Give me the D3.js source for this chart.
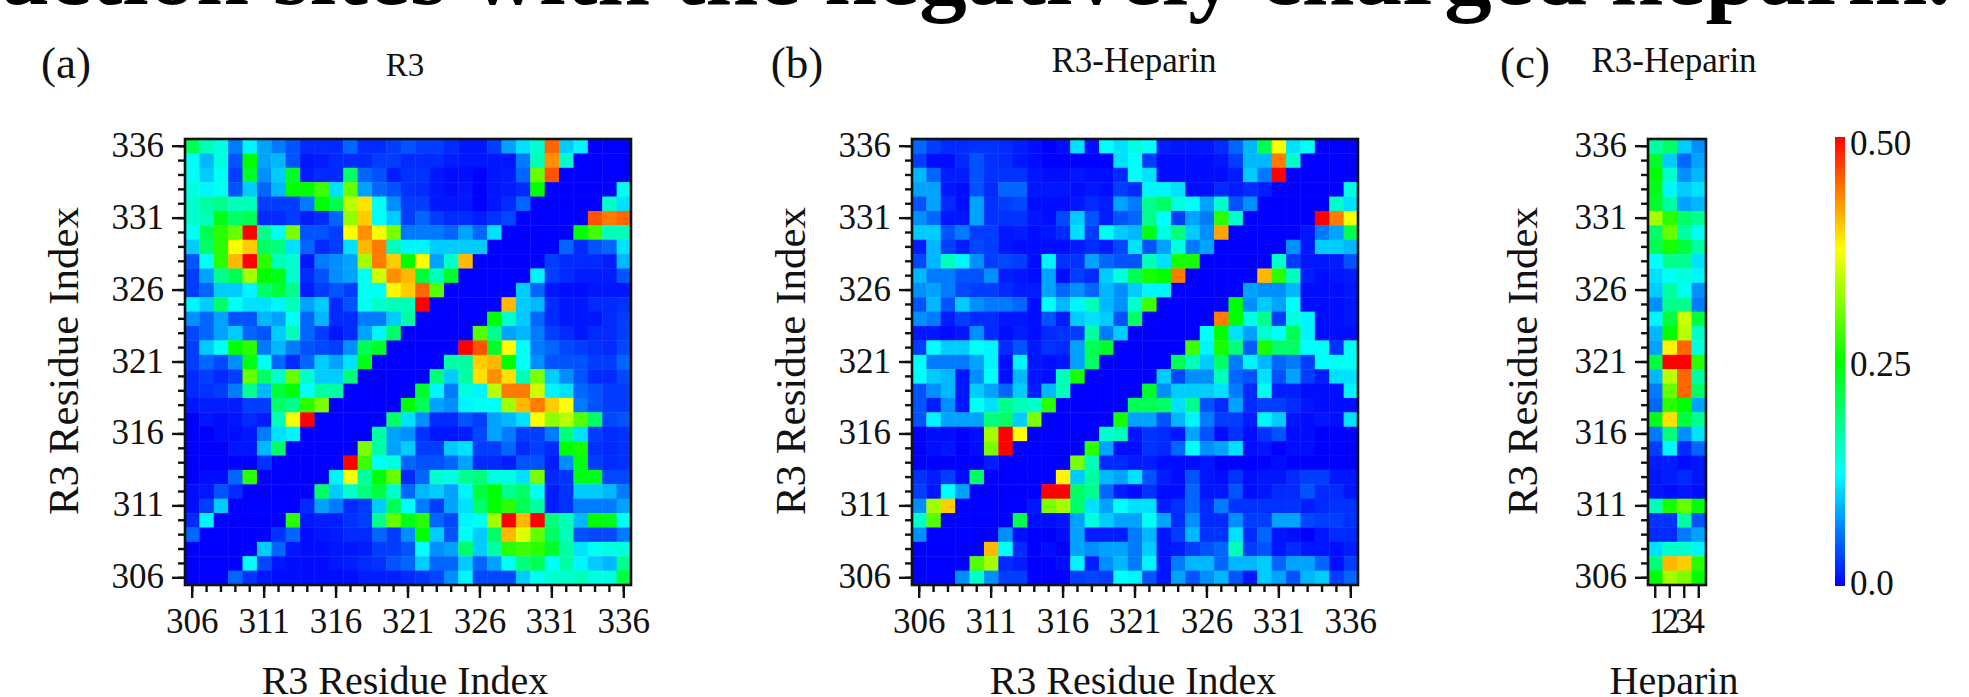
<!DOCTYPE html>
<html><head><meta charset="utf-8">
<script src="https://cdn.jsdelivr.net/npm/d3@7"></script>
<style>html,body{margin:0;padding:0;background:#fff;overflow:hidden}svg{display:block}text{font-family:"Liberation Serif",serif;fill:#111}</style>
</head><body><svg id="c" width="1969" height="697"></svg>
<script>
// Residue indices, top row = 336, left column = 306. Values are in hundredths of the colour scale.
const residues = d3.range(306, 337);
const heparinUnits = [1, 2, 3, 4];
const majorTicks = [306, 311, 316, 321, 326, 331, 336];
const colorbarLabels = ["0.0", "0.25", "0.50"];

const r3Matrix = [
[21,16,14,6,12,8,6,4,2,2,2,5,2,2,3,4,3,3,2,1,1,3,8,11,15,45,10,12,0,0,0],
[13,9,14,4,25,8,9,4,1,1.5,2,2,2,3,3,2,2,2,1.5,1,1,1,1,6,16,43,15,0,0,0,0],
[13,10,13,3,23,7,10,23,1.5,2,2,20,5,4,1.5,2.5,2.5,1,.5,.5,0,1,1.5,5,30,46,0,0,0,0,0],
[14,12,13,4,10,5,9,25,25,28,11,30,8,5,4,2.5,2,1,.5,1,0,1,1.5,2,25,0,0,0,0,0,13],
[15,17,18,16,16,3,3,3,6,25,21,34,39,13,7,3,3,1,1,1,0,1,2,5,0,0,0,0,0,15,11],
[15,16,24,20,21,2,2,3,1.5,2,5,32,40,13,10,3,5,3,2,2,1.5,2.5,3.5,0,0,0,0,0,46,44,45],
[13,21,27,30,50,18,13,31,4,4,3,37.5,43,37,31,6,6,6,5,8,5,11,0,0,0,0,0,25,28,16,16],
[10,20,27,37,40,20,19,11,5,2,3,11,41,44,16,12,12,10,10,10,10,0,0,0,0,0,5,2,4,5,11],
[4,13,27,41,50,27,16,15,1,6,7,8,33,44,40,25,37.5,8,15,41,0,0,0,0,0,3,2,2,2,1.5,9],
[3,8,18,21,33,25,24,15,2,4,7,8,13,35,43,41,22,16,23,0,0,0,0,0,12,3,2,1.5,1.5,1.5,4],
[3,5,10,10,12,20,22,18,1.5,3,4,3,13,13,38,40,45,29,0,0,0,0,0,10,5,1,.5,.5,1,1,1],
[12,10,20,13,11,11,12,16,8,10,2,4,13,15,16,16,50,0,0,0,0,0,41,10,9,2,1,1,2,2,2.5],
[7,5,8,4,4,9,8,13,5,9,2,2,6,6,10,17,0,0,0,0,0,25,15,10,5,2,1,1,1,2,3],
[3.5,5,8,10,5,4,10,16,5,3,1,2,8,12,20,0,0,0,0,0,29,18,8,9,6,3,2,1,2,2,3],
[3,10,13,25,27,6,9,6,4,3.5,3,7,21,23,0,0,0,0,0,50,46,23,37.5,13,6,5,3.5,3,2.5,2,3.5],
[3,5,3.5,7,24,13,5,2,5,10,8,11,24,0,0,0,0,0,17,17,40,41,25,13,7,4,4,4,3,3,5],
[2,3,2,3,30,20,15,30,15,10,10,19,0,0,0,0,0,19,10,17,39,43,39,16,31,10,7,4,2,2,3.5],
[2,2.5,3,6,18,9,22,25,12.5,17,17,0,0,0,0,0,23,12,6,14,12,34,44,44,35,12,11,5,4,3,3],
[1,1.5,1.5,1.5,3,3,20,18,27,31,0,0,0,0,0,25,21,8,7,12,13,13,33,41,44,40,37.5,6,4,3,3],
[0,1,.5,1,2,1.5,16,37,50,0,0,0,0,0,20,11,7,2,2,4,3,8,9,11,37.5,32,34,29,20,3.5,4],
[0,0,.5,.5,1,6,11,12,0,0,0,0,0,17,8,7,2.5,1,1,1.5,3.5,8,6,3,3,6,19,11,3,2,2.5],
[0,0,0,1,1,9,20,0,0,0,0,0,31,17,8,10,3,3,10,11,3,3,5,2,3,2,25,26,2.5,2,2.5],
[0,0,0,0,0,2.5,0,0,0,0,0,50,28,13,14,5,4,4,5,8,2,2,1.5,4,4,1.5,7,24,3,2,2.5],
[0,.5,.5,5,27,0,0,0,0,0,12,37,17,25,30,2,5,15,14,18,19,14,14,11,31,2,2.5,24,24,3.5,3.5],
[.5,1,4,2,0,0,0,0,0,20,10,15,19,22,15,5,9,10,8,12,22,25,18,20,13,1.5,2.5,10,10,9,6],
[.5,3,10,0,0,0,0,0,2,8,6,2,3,10,21,12.5,6,3,8,11,20,25,27,21,17,1.5,2.5,6,6,6,8],
[2,12,0,0,0,0,0,27,1,1.5,1.5,2.5,3,18,30,24,27,5,3.5,12,13,33,50,41,50,19,16,9,25,24,13],
[5,0,0,0,0,0,2.5,5,.5,1,1.5,2,2,5,3,7,25,10,4,13,10,20,41,36,30,20,16,4,3.5,3.5,6],
[0,0,0,0,0,10,5,1,.5,.5,1,1,1.5,3,3,4,12.5,7,8,20,10,17,27,28,27,23,17,11,13,14,14],
[0,0,0,0,12.5,3.5,1,.5,.5,.5,1,1.5,2,2.5,4,5,10,5,5,10,5,8,13,19,21,13,17,12,10,9,18],
[0,0,0,5,2.5,1,.5,.5,.5,.5,.5,.5,1.5,1.5,1.5,2,2.5,3.5,7,12,3.5,3.5,3.5,10,13,15,15,16,14,14,22]
];

const r3HeparinMatrix = [
[5,3,2,2,2.5,2.5,2,1.5,.5,0,.5,11,.5,12.5,11,14,12.5,1.5,1,1,1,2,5,9,21,37,11,13,0,0,0],
[3,.5,.5,2,4,2.5,2,1,.5,0,0,0,0,0,11,12.5,3,.5,.5,.5,.5,1,3,9,9,44,15,0,0,0,0],
[9,5,1.5,1.5,4,2.5,2.5,2.5,1,.5,.5,1,.5,.5,2,12.5,11,.5,.5,.5,.5,.5,1.5,10,6,50,0,0,0,0,0],
[8,8,1,.5,4,2,5,5,1,1,1,.5,1,.5,3,2,12,12,11,.5,.5,2,1.5,2,1.5,0,0,0,0,0,14],
[4,8,2,.5,8,2.5,3,3.5,.5,.5,.5,1,2,1.5,8,6,18,20,14,12.5,8,15,4,7,0,0,0,0,0,15,11],
[7,5,1,1,8,2.5,2.5,2.5,1,.5,3.5,10,4,1.5,4,5,18,12.5,3,8,6,27,15,0,0,0,0,0,50,44,37],
[10,10,4,6,3,3,1,1.5,.5,1,2,11,3,13,10,9,24,14,19,10,7,42,0,0,0,0,0,1,6,8,21],
[1.5,9,3,1.5,3.5,3,1,.5,.5,.5,.5,1.5,2,1.5,3.5,11,4,8,14,6,8,0,0,0,0,0,7,1,10,10,9],
[3.5,9,16,12,7,3,3.5,3,.5,12,2.5,2.5,8,5,4,4,16,11,26,26,0,0,0,0,0,15,3,1,1,1.5,4],
[9,6,6,4,4,7,1.5,1,.5,8,.5,3,2,10,14,21,26,25,44,0,0,0,0,0,41,27,16,1.5,.5,1,1.5],
[7,8,6,3.5,3,3,2,1.5,1.5,8,5,7,5,9,7,10,12,12,0,0,0,0,0,8,7,7,9,.5,.5,.5,1],
[4,9,4,10,7,6,6,5,.5,12.5,9,12,16,9,7,15,28,0,0,0,0,0,25,7,10,8,12.5,.5,.5,.5,1],
[7,6,1.5,3,2,2,1,1,.5,4,1.5,10,11,10,4,20,0,0,0,0,0,44,25,14,18,3,14,12,.5,.5,1],
[1,1,.5,1,7,2,.5,1.5,.5,2,2.5,3,17,6,10,0,0,0,0,0,12.5,25,11,8,15,12.5,21,12,.5,.5,.5],
[3,12.5,10,10,13,12,2,4,1,2.5,2,8,21,23,0,0,0,0,0,28,12,26,19,4.5,26,20,20,12.5,13,2.5,13],
[12.5,6,6,6,8,12,.5,12,1,.5,1,8,20,0,0,0,0,0,21,16,10,20,6,12,9,5,6,3,12.5,13,13],
[13,10,9,1,7,12.5,.5,9,1,.5,16,26,0,0,0,0,0,10,3.5,7,7,16,5,4,11,4,8,3,1.5,11,11],
[4,7,9,1,10,8,5,10,1.5,9,16,0,0,0,0,0,23,7,10,10,10,11,6,2,13,1.5,1.5,.5,.5,.5,12],
[4,1.5,7,1,13,11,18,16,15,27,0,0,0,0,0,21,21,20,11,18,4,2,8,2,3,3,2,1,.5,.5,.5],
[4,12,8,8,8,19,20,10,31,0,0,0,0,0,26,8,8,4,9,12,6,3,3,1.5,12,10,1,.5,1,.5,11],
[0,.5,.5,.2,.5,33,50,37.5,0,0,0,0,0,15,16,1,2.5,2,1,8,4,.5,2.5,.5,2.5,4,.5,.5,0,0,0],
[0,.5,1,.3,.5,31,50,0,0,0,0,0,27,8,.8,.5,2.5,2,5,12.5,7,8,11,.5,1,0,.5,.5,0,0,0],
[0,0,0,0,0,1.5,0,0,0,0,0,31,16,2,2,1.5,1.5,.5,.5,.5,1,.2,.3,.3,.3,.5,.2,.3,.3,.3,.3],
[2.5,1.5,3,.5,20,0,0,0,0,0,38,10,17,9,8,11,4,1.5,.5,4,1,.5,2.5,.5,1,1,2,3,3,1,1],
[3,1,12.5,8,0,0,0,0,0,50,50,20,18,5,1.5,.5,2.5,.5,.5,5,1,1,4,.5,1,2,2,4,2,2,1],
[7,33,40,0,0,0,0,0,1,31,33,20,11,8,12.5,11,11,1.5,2.5,5,2,6,2.5,2.5,2.5,2.5,2.5,1.5,2,2.5,2.5],
[15,29,0,0,0,0,0,21,.5,.5,1,8,14,10,8,8,13,8,2,7,2,2,7,3,3,8,8,3.5,3,3,2.5],
[7,0,0,0,0,0,7,.5,.3,.3,.5,8,1.5,1.5,1.5,6,9,1,3,9,2.5,2.5,11,2,5,1,.5,.3,1,2,2],
[0,0,0,0,0,41,13,2,.3,.5,.3,8,7,8,8,6,10,1,1.5,3,4,5,16,3,4,1,2,1,1,.5,1.5],
[0,0,0,0,29,33,2,1.5,.3,.3,.5,12,1.5,7,9,6,12,1,6,9,9,5,9,9,10,5,8,8,5,.5,3],
[0,0,0,7,15,7,3,3,0,0,0,3,3.5,3,12.5,12,4,1,8,4,7,9,4,1,10,8,4,9,10,3,5]
];

const heparinMatrix = [
[17,20,10,7],[23,10,5,8],[25,15,7,9],[24,12,10,11],[23,17,8,9],[33,27,20,18],
[20,30,17,13],[21,26,22,17],[12.5,18,18,11],[11,13,14,12],[10,17,13,7],[7,18,18,6],
[12,22,35,22],[9,25,34,15],[8,38,45,14],[22,50,50,27],[9,34,45,17],[6,30,45,20],
[5,27,25,8],[24,39,22,18],[6,19,7,11],[3,12,2,5],[1.5,1.5,.5,1],[1,1.5,2,1],
[1,.5,1,.5],[16,26,30,25],[2.5,2.5,17,4],[2,2,6,8],[11,15,15,12],[19,41,40,27],[25,33,31,25]
];

const svg = d3.select("#c");
const color = d3.scaleLinear().domain([0, 12.5, 25, 37.5, 50])
  .range(["#0000ff", "#00ffff", "#00ff00", "#ffff00", "#ff0000"]).clamp(true);

const defs = svg.append("defs");
defs.append("filter").attr("id", "soft").attr("x", "-2%").attr("y", "-2%").attr("width", "104%").attr("height", "104%")
  .append("feGaussianBlur").attr("stdDeviation", 0.5);
const grad = defs.append("linearGradient").attr("id", "cb").attr("x1", 0).attr("x2", 0).attr("y1", 1).attr("y2", 0);
color.domain().forEach(v => grad.append("stop").attr("offset", v / 50).attr("stop-color", color(v)));

const plotTop = 139, plotSize = 446, tickFont = 35;
const y = d3.scaleBand().domain(residues.slice().reverse()).range([plotTop, plotTop + plotSize]).padding(0);

function panel(left, width, columns, matrix, xMajor, titleDx) {
  const x = d3.scaleBand().domain(columns).range([left, left + width]).padding(0);
  const g = svg.append("g");
  g.append("g").attr("filter", "url(#soft)").selectAll("g")
    .data(matrix).join("g")
    .selectAll("rect").data((row, r) => row.map((v, c) => ({ v, r, c }))).join("rect")
    .attr("x", d => x(columns[d.c])).attr("y", d => y(residues[30 - d.r]))
    .attr("width", x.bandwidth() + 0.4).attr("height", y.bandwidth() + 0.4)
    .attr("fill", d => color(d.v));

  const styleAxis = a => { a.select(".domain").remove(); a.selectAll("line").attr("stroke", "#111").attr("stroke-width", 2.4); };
  // minor ticks
  g.append("g").attr("transform", `translate(${left},0)`)
    .call(d3.axisLeft(y).tickValues(residues).tickSize(7).tickFormat("")).call(styleAxis);
  // major ticks
  g.append("g").attr("transform", `translate(${left},0)`)
    .call(d3.axisLeft(y).tickValues(majorTicks).tickSize(13).tickPadding(8)).call(styleAxis)
    .selectAll("text").attr("font-size", tickFont).attr("dy", "0.30em").style("font-family", '"Liberation Serif",serif').attr("fill", "#111");
  if (columns.length > 4) {
    g.append("g").attr("transform", `translate(0,${plotTop + plotSize})`)
      .call(d3.axisBottom(x).tickValues(columns).tickSize(7).tickFormat("")).call(styleAxis);
  }
  const bottomLabels = g.append("g").attr("transform", `translate(0,${plotTop + plotSize})`)
    .call(d3.axisBottom(x).tickValues(xMajor).tickSize(13).tickPadding(10)).call(styleAxis)
    .selectAll("text").attr("font-size", tickFont).attr("dy", "0.72em").style("font-family", '"Liberation Serif",serif').attr("fill", "#111");
  // the narrow panel's digits run together in the original
  if (columns.length === 4) bottomLabels.attr("dx", (d, i) => (1.5 - i) * 1.6);

  g.append("rect").attr("x", left).attr("y", plotTop).attr("width", width).attr("height", plotSize)
    .attr("fill", "none").attr("stroke", "#111").attr("stroke-width", 2.6);

  g.append("text").attr("transform", `translate(${left + titleDx},${plotTop + plotSize / 2 - 1}) rotate(-90)`)
    .attr("text-anchor", "middle").attr("dy", "0.3em").attr("font-size", 43).text("R3 Residue Index");
}

panel(185, 446, residues, r3Matrix, majorTicks, -120);
panel(912, 446, residues, r3HeparinMatrix, majorTicks, -120);
panel(1648, 58, heparinUnits, heparinMatrix, heparinUnits, -124);

const text = (x, yy, s, size, anchor = "middle") =>
  svg.append("text").attr("x", x).attr("y", yy).attr("font-size", size).attr("text-anchor", anchor).text(s);

// cropped headline from the page the figure was cut from
svg.append("text").attr("x", 1951).attr("y", 4).attr("text-anchor", "end").attr("font-size", 95)
  .attr("font-weight", "bold").style("fill", "#000").text("action sites with the negatively charged heparin.");

text(66, 78, "(a)", 45);
text(405, 76, "R3", 33);
text(797, 78, "(b)", 45);
text(1134, 72, "R3-Heparin", 35);
text(1525, 78, "(c)", 45);
text(1674, 72, "R3-Heparin", 35);

text(405, 694, "R3 Residue Index", 40);
text(1133, 694, "R3 Residue Index", 40);
text(1674, 694, "Heparin", 40);

// colour bar
const cbar = d3.scaleLinear().domain([0, 50]).range([586, 137]);
svg.append("rect").attr("x", 1835).attr("y", cbar(50)).attr("width", 10).attr("height", cbar(0) - cbar(50)).attr("fill", "url(#cb)");
text(1850, 155, colorbarLabels[2], 35, "start");
text(1850, 376, colorbarLabels[1], 35, "start");
text(1850, 595, colorbarLabels[0], 35, "start");
</script></body></html>
